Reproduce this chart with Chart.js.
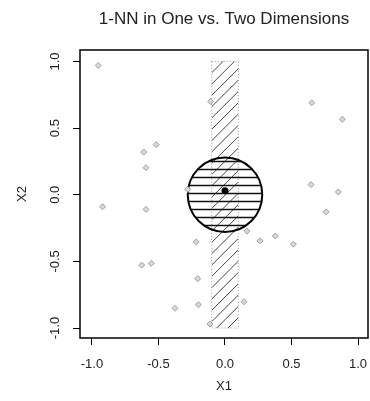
<!DOCTYPE html>
<html>
<head>
<meta charset="utf-8">
<script src="https://cdn.jsdelivr.net/npm/chart.js@4.4.0/dist/chart.umd.min.js"></script>
<style>
  html, body { margin: 0; padding: 0; background: #fff; }
</style>
</head>
<body>
<canvas id="nnChart" width="370" height="401"></canvas>
<script>
// training observations (X1, X2)
var x1Values = [-0.953, -0.108, -0.517, -0.611, -0.594, -0.28, -0.92, -0.594, -0.216, -0.626,
                -0.554, -0.205, -0.2, -0.376, -0.113, 0.852, 0.76, 0.165, 0.263, 0.378,
                0.514, 0.143, 0.652, 0.882, 0.647];
var x2Values = [0.97, 0.70, 0.376, 0.32, 0.203, 0.04, -0.09, -0.11, -0.354, -0.528,
                -0.515, -0.63, -0.825, -0.852, -0.97, 0.021, -0.128, -0.273, -0.346, -0.309,
                -0.371, -0.803, 0.69, 0.566, 0.076];

// test observation
var targetX1 = [0.0];
var targetX2 = [0.03];

// neighbourhoods: 1-D slab and 2-D disc
var slabX = [-0.1, 0.1];
var slabY = [-1.0, 1.0];
var discCenter = [0.0, 0.0];
var discRadius = 0.28;

var tickValues = [-1.0, -0.5, 0.0, 0.5, 1.0];
var tickLabels = ["-1.0", "-0.5", "0.0", "0.5", "1.0"];

var fontFamily = "'Liberation Sans', Arial, Helvetica, sans-serif";

var trainPoints = x1Values.map(function(x, i) { return {x: x, y: x2Values[i]}; });
var targetPoints = targetX1.map(function(x, i) { return {x: x, y: targetX2[i]}; });

// hatched rectangle + hatched circle, drawn under the points
var shapesPlugin = {
  id: 'shapes',
  beforeDatasetsDraw: function(chart) {
    var ctx = chart.ctx, xs = chart.scales.x, ys = chart.scales.y;
    var l = xs.getPixelForValue(slabX[0]), r = xs.getPixelForValue(slabX[1]);
    var t = ys.getPixelForValue(slabY[1]), b = ys.getPixelForValue(slabY[0]);
    var step = 8;

    ctx.save();
    ctx.beginPath();
    ctx.rect(l, t, r - l, b - t);
    ctx.clip();
    ctx.strokeStyle = '#444';
    ctx.lineWidth = 1;
    ctx.beginPath();
    for (var c = l + t; c < r + b + step * 2; c += step * Math.SQRT2) {
      ctx.moveTo(l, c - l);
      ctx.lineTo(r, c - r);
    }
    ctx.stroke();
    ctx.restore();

    ctx.save();
    ctx.strokeStyle = '#999';
    ctx.lineWidth = 1;
    ctx.setLineDash([1, 2]);
    ctx.strokeRect(l, t, r - l, b - t);
    ctx.restore();

    var cx = xs.getPixelForValue(discCenter[0]);
    var cy = ys.getPixelForValue(discCenter[1]);
    var rad = xs.getPixelForValue(discCenter[0] + discRadius) - cx;

    ctx.save();
    ctx.beginPath();
    ctx.arc(cx, cy, rad, 0, Math.PI * 2);
    ctx.clip();
    ctx.strokeStyle = '#111';
    ctx.lineWidth = 1.6;
    ctx.beginPath();
    for (var yy = cy - rad + step / 2; yy < cy + rad; yy += step) {
      ctx.moveTo(cx - rad, yy);
      ctx.lineTo(cx + rad, yy);
    }
    ctx.stroke();
    ctx.restore();

    ctx.save();
    ctx.strokeStyle = '#000';
    ctx.lineWidth = 2;
    ctx.beginPath();
    ctx.arc(cx, cy, rad, 0, Math.PI * 2);
    ctx.stroke();
    ctx.restore();
  },
  afterDraw: function(chart) {
    var a = chart.chartArea, ctx = chart.ctx;
    ctx.save();
    ctx.strokeStyle = '#000';
    ctx.lineWidth = 1.5;
    ctx.strokeRect(a.left, a.top, a.right - a.left, a.bottom - a.top);
    ctx.restore();
  }
};

function setTicks(axis) {
  axis.ticks = tickValues.map(function(v) { return {value: v}; });
}

new Chart(document.getElementById('nnChart'), {
  type: 'scatter',
  data: {
    datasets: [{
      label: 'training',
      data: trainPoints,
      pointStyle: 'rectRot',
      pointRadius: 3,
      borderWidth: 1,
      borderColor: '#a0a0a0',
      backgroundColor: '#d8d8d8'
    }, {
      label: 'test',
      data: targetPoints,
      pointStyle: 'circle',
      pointRadius: 3.5,
      borderWidth: 0,
      backgroundColor: '#000'
    }]
  },
  options: {
    responsive: false,
    animation: false,
    layout: { autoPadding: false, padding: { left: 0, right: 2, top: 0, bottom: 0 } },
    plugins: {
      legend: { display: false },
      tooltip: { enabled: false },
      title: {
        display: true,
        fullSize: false,
        text: '1-NN in One vs. Two Dimensions',
        color: '#222',
        font: { family: fontFamily, size: 17, weight: 'normal' },
        padding: { top: 9, bottom: 20.6 }
      }
    },
    scales: {
      x: {
        type: 'linear',
        min: -1.09,
        max: 1.075,
        afterBuildTicks: setTicks,
        afterFit: function(axis) {
          axis.height = 63;
          axis.paddingLeft = 0;
          axis.paddingRight = 0;
        },
        border: { display: false },
        grid: { drawOnChartArea: false, drawTicks: true, tickLength: 7, color: '#000', lineWidth: 1 },
        ticks: {
          color: '#222',
          padding: 12,
          maxRotation: 0,
          font: { family: fontFamily, size: 13 },
          callback: function(v, i) { return tickLabels[i]; }
        },
        title: {
          display: true,
          text: 'X1',
          color: '#222',
          font: { family: fontFamily, size: 13 },
          padding: { top: 0, bottom: 7 }
        }
      },
      y: {
        type: 'linear',
        min: -1.075,
        max: 1.086,
        afterBuildTicks: setTicks,
        afterFit: function(axis) {
          axis.width = 80;
          axis.paddingTop = 0;
          axis.paddingBottom = 0;
        },
        border: { display: false },
        grid: { drawOnChartArea: false, drawTicks: true, tickLength: 7, color: '#000', lineWidth: 1 },
        ticks: {
          color: '#222',
          padding: 6,
          minRotation: 90,
          maxRotation: 90,
          crossAlign: 'center',
          font: { family: fontFamily, size: 13 },
          callback: function(v, i) { return tickLabels[i]; }
        },
        title: {
          display: true,
          text: 'X2',
          color: '#222',
          font: { family: fontFamily, size: 13 },
          padding: { top: 15, bottom: 0 }
        }
      }
    }
  },
  plugins: [shapesPlugin]
});
</script>
</body>
</html>
